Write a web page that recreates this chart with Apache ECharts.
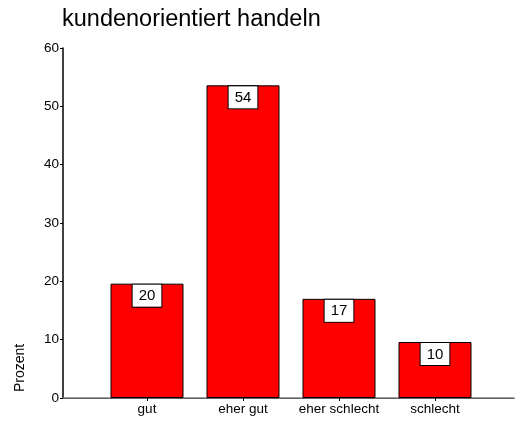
<!DOCTYPE html>
<html lang="de">
<head>
    <meta charset="UTF-8">
    <title>kundenorientiert handeln</title>
    <script src="https://cdn.jsdelivr.net/npm/echarts@6/dist/echarts.min.js"></script>
    <style>
        html, body { margin: 0; padding: 0; background: #fff; }
        #chart { width: 515px; height: 425px; }
    </style>
</head>
<body>
    <div id="chart"></div>
    <script type="text/javascript">
        // Werte (Prozent)
        var categories = ['gut', 'eher gut', 'eher schlecht', 'schlecht'];
        var values = [19.6, 53.6, 17.0, 9.6];
        var yTicks = [0, 10, 20, 30, 40, 50, 60];

        var positions = categories.map(function (c, i) { return i + 1; });
        var barData = values.map(function (v, i) { return [positions[i], v]; });

        var myChart = echarts.init(document.getElementById('chart'));
        var font = 'Arial, "Liberation Sans", sans-serif';

        var option = {
            animation: false,
            textStyle: { fontFamily: font },
            title: {
                text: 'kundenorientiert handeln',
                left: 62,
                top: 8,
                padding: [0, 0, 0, 0],
                textStyle: { fontSize: 23.5, fontWeight: 'normal', color: '#000', fontFamily: font }
            },
            grid: { left: 63, right: 1, top: 48, bottom: 27 },
            xAxis: [
                {
                    type: 'value',
                    min: 0.125,
                    max: 4.823,
                    splitLine: { show: false },
                    axisLine: { show: true, onZero: false, lineStyle: { color: '#000', width: 1 } },
                    axisTick: { show: true, length: 3, customValues: positions, lineStyle: { color: '#000' } },
                    axisLabel: {
                        customValues: positions,
                        margin: 4,
                        fontSize: 13.5,
                        color: '#000',
                        formatter: function (v) { return categories[Math.round(v) - 1] || ''; }
                    }
                },
                {
                    type: 'value',
                    position: 'top',
                    min: 0.125,
                    max: 4.823,
                    splitLine: { show: false },
                    axisLine: { show: true, lineStyle: { color: '#808080', width: 1.5 } },
                    axisTick: { show: false },
                    axisLabel: { show: false }
                }
            ],
            yAxis: {
                type: 'value',
                min: yTicks[0],
                max: yTicks[yTicks.length - 1],
                interval: 10,
                splitLine: { show: false },
                axisLine: { show: true, lineStyle: { color: '#000', width: 1.5 } },
                axisTick: { show: true, length: 3, lineStyle: { color: '#000' } },
                axisLabel: { fontSize: 13.5, color: '#000', margin: 4 }
            },
            graphic: [
                {
                    type: 'text',
                    x: 20,
                    y: 368,
                    rotation: Math.PI / 2,
                    style: {
                        text: 'Prozent',
                        fontSize: 14,
                        fontFamily: font,
                        fill: '#000',
                        align: 'center',
                        verticalAlign: 'middle'
                    }
                }
            ],
            series: [
                {
                    type: 'bar',
                    xAxisIndex: 0,
                    data: barData,
                    barWidth: 73,
                    itemStyle: { color: '#ff0000', borderColor: '#000', borderWidth: 1 },
                    label: {
                        show: true,
                        position: 'insideTop',
                        distance: 1,
                        formatter: function (p) { return Math.round(p.value[1]); },
                        fontSize: 15,
                        color: '#000',
                        backgroundColor: '#fff',
                        borderColor: '#000',
                        borderWidth: 1,
                        padding: [4, 6, 3, 6]
                    }
                }
            ]
        };
        myChart.setOption(option);
    </script>
</body>
</html>
